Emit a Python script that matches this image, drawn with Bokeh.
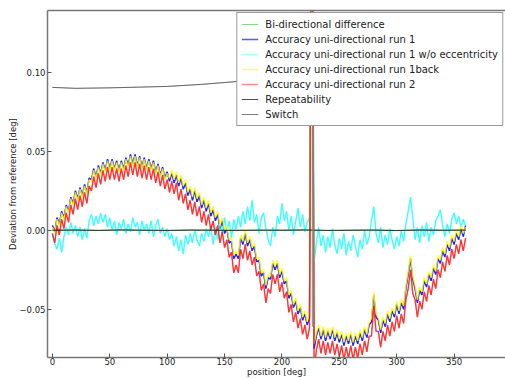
from bokeh.plotting import figure
from bokeh.models import Range1d, FixedTicker, LinearAxis, Legend, LegendItem
from bokeh.embed import file_html
from bokeh.resources import INLINE

# ---------------- data (values in milli-degrees) ----------------
positions = list(range(0, 361, 2))

run1_mdeg = [
    3, -1, 8, 4, 12, 8, 16, 12, 21, 17,
    25, 20, 27, 22, 29, 24, 33, 32, 39, 34,
    41, 36, 43, 38, 45, 39, 45, 39, 44, 38,
    44, 39, 46, 41, 48, 42, 48, 41, 47, 40,
    46, 39, 45, 39, 44, 37, 42, 35, 40, 33,
    37, 31, 36, 30, 35, 28, 33, 26, 30, 22,
    26, 19, 25, 18, 22, 14, 19, 12, 17, 9,
    13, 6, 10, 1, 6, -2, 1, -8, -7, -18,
    -15, -18, -5, -9, -2, -10, -6, -13, -10, -20,
    -19, -29, -27, -37, -30, -31, -21, -25, -21, -30,
    -26, -34, -32, -43, -40, -49, -45, -53, -49, -57,
    -53, -60, -55, 300, -75, -67, -62, -69, -63, -70,
    -64, -69, -63, -70, -65, -71, -66, -73, -67, -72,
    -66, -73, -67, -72, -65, -70, -63, -68, -60, -58,
    -41, -55, -57, -65, -57, -61, -53, -58, -51, -55,
    -47, -53, -46, -50, -37, -28, -18, -31, -37, -46,
    -38, -41, -32, -36, -28, -32, -24, -28, -18, -21,
    -13, -17, -9, -13, -5, -9, -2, -6, 1, -4,
    3,
]

run1_wo_ecc_mdeg = [
    -3, -8, -12, -5, -14, -4, 2, -3, 5, -2,
    3, -4, 2, -6, 1, -5, 6, 10, 3, 9,
    4, 11, 5, 10, 2, 8, 0, 6, -3, 5,
    1, 7, -2, 4, -1, 8, 2, 5, -3, 6,
    0, 4, -2, 6, -4, 3, 7, -2, 2, -4,
    1, -6, -2, -10, -4, -13, -6, -15, -3, -9,
    -2, -8, 0, -6, -10, -2, -7, 1, -4, 3,
    -9, 2, -6, 5, -3, 8, -1, 6, -5, 7,
    0, 9, 2, 12, 4, 15, 6, 19, 5, 10,
    -2, 8, 11, 1, -6, -10, 2, -4, 9, 4,
    17, 6, 12, 0, 9, -3, 6, 14, 2, 10,
    -1, 5, 8, 300, -20, -8, 2, -10, -3, -14,
    -4, -11, 1, -9, -15, -5, -12, -2, -16, -7,
    -13, -3, -10, -17, -6, -12, 0, -9, -4, 6,
    15, -2, -8, 2, -11, -3, -9, 1, -6, -12,
    -4, -10, 0, -7, 4, 12, 21, 8, -6, 2,
    -8, 3, -4, 5, -7, 2, -3, 6, 9, 13,
    3, -4, 4, -2, 7, 11, 4, 9, 2, 7,
    3,
]

run1back_mdeg = [
    2, -2, 7, 3, 11, 7, 15, 11, 20, 16,
    24, 19, 26, 21, 28, 23, 32, 31, 38, 33,
    40, 35, 42, 37, 44, 38, 44, 38, 43, 37,
    43, 38, 45, 40, 47, 41, 47, 40, 46, 39,
    45, 38, 44, 38, 43, 36, 41, 34, 39, 32,
    36, 33, 38, 32, 37, 30, 35, 28, 32, 24,
    28, 21, 27, 20, 24, 16, 21, 14, 19, 11,
    15, 8, 12, 3, 8, 0, 3, -6, -5, -16,
    -13, -16, -3, -7, 0, -8, -4, -11, -8, -18,
    -17, -27, -25, -35, -28, -29, -19, -23, -19, -28,
    -24, -32, -30, -41, -38, -47, -43, -51, -47, -55,
    -51, -58, -53, 300, -72, -65, -60, -67, -61, -68,
    -62, -67, -61, -68, -63, -69, -64, -71, -65, -70,
    -64, -71, -65, -70, -63, -68, -61, -66, -58, -56,
    -39, -53, -55, -63, -55, -59, -51, -56, -49, -53,
    -45, -51, -44, -48, -35, -26, -16, -29, -35, -44,
    -36, -39, -30, -34, -26, -30, -22, -26, -16, -19,
    -11, -15, -7, -11, -3, -7, 0, -4, 3, -2,
    2,
]

run2_mdeg = [
    -2, -8, 3, -3, 7, 1, 11, 5, 16, 10,
    20, 13, 22, 15, 24, 17, 28, 25, 34, 27,
    36, 29, 38, 31, 40, 32, 40, 32, 39, 31,
    39, 32, 41, 34, 43, 35, 43, 34, 42, 33,
    41, 32, 40, 32, 39, 30, 37, 28, 35, 26,
    32, 24, 31, 23, 30, 19, 26, 17, 23, 13,
    19, 10, 18, 9, 15, 5, 12, 3, 10, 0,
    6, -3, 3, -8, -1, -11, -6, -17, -14, -27,
    -22, -27, -12, -18, -9, -19, -13, -22, -17, -29,
    -26, -38, -34, -46, -37, -40, -28, -34, -28, -39,
    -33, -43, -39, -52, -47, -58, -52, -62, -56, -66,
    -60, -69, -62, 300, -88, -76, -69, -78, -70, -79,
    -71, -78, -70, -79, -72, -80, -73, -82, -74, -81,
    -73, -82, -74, -81, -72, -79, -70, -77, -67, -67,
    -48, -64, -64, -74, -64, -70, -60, -67, -58, -64,
    -54, -62, -53, -59, -44, -37, -25, -40, -44, -55,
    -45, -50, -39, -45, -35, -41, -31, -37, -25, -30,
    -20, -26, -16, -22, -12, -18, -9, -15, -6, -13,
    -5,
]

coarse_positions = list(range(0, 361, 20))
bidir_mdeg = [0.0, 0.2, -0.1, 0.1, 0.0, -0.2, 0.1, 0.0, 0.2, -0.1,
              0.0, 0.1, -0.2, 0.0, 0.1, -0.1, 0.2, 0.0, 0.1]
repeat_mdeg = [0.0, 0.1, -0.1, 0.2, 0.0, -0.1, 0.1, 0.0, -0.2, 0.1,
               0.0, 0.2, -0.1, 0.0, 0.1, -0.2, 0.1, 0.0, 0.1]

switch_pos = [0, 20, 50, 100, 130, 162, 200, 227, 227]
switch_mdeg = [90.5, 89.9, 90.2, 91.1, 92.4, 94.3, 95.5, 96.2, -61.0]

x_ticks = [0, 50, 100, 150, 200, 250, 300, 350]
y_ticks = [-0.05, 0.0, 0.05, 0.10]
y_tick_labels = ["\u22120.05", "0.00", "0.05", "0.10"]

labels = [
    "Bi-directional difference",
    "Accuracy uni-directional run 1",
    "Accuracy uni-directional run 1 w/o eccentricity",
    "Accuracy uni-directional run 1back",
    "Accuracy uni-directional run 2",
    "Repeatability",
    "Switch",
]
colors = ["#00a000", "#0000ff", "#00ffff", "#ffff00", "#ff0000", "#222222", "#444444"]
legend_alphas = [0.45, 0.65, 0.35, 0.55, 0.45, 0.8, 0.7]

FONT = "DejaVu Sans"

def deg(vals):
    return [v / 1000.0 for v in vals]

p = figure(
    frame_width=458, frame_height=347,
    min_border_left=47, min_border_right=0, min_border_top=10, min_border_bottom=21,
    x_range=Range1d(-4.3, 394.8), y_range=Range1d(-0.0806, 0.1392),
    output_backend="svg", toolbar_location=None,
    background_fill_color="white", border_fill_color="white",
)
p.outline_line_color = None
p.grid.visible = False

for ax in (p.xaxis[0], p.yaxis[0]):
    ax.axis_line_color = "#777777"
    ax.axis_line_width = 1.5
    ax.major_tick_in = 4
    ax.major_tick_out = 0
    ax.major_tick_line_color = "#555555"
    ax.minor_tick_line_color = None
    ax.major_label_text_font = FONT
    ax.major_label_text_font_size = "8.5px"
    ax.major_label_text_color = "#222222"
    ax.axis_label_text_font = FONT
    ax.axis_label_text_font_size = "8.5px"
    ax.axis_label_text_font_style = "normal"
    ax.axis_label_text_color = "#222222"

p.xaxis[0].major_label_standoff = 0
p.xaxis[0].axis_label_standoff = -1
p.yaxis[0].major_label_standoff = 2
p.yaxis[0].axis_label_standoff = -2

p.xaxis[0].ticker = FixedTicker(ticks=x_ticks)
p.xaxis[0].axis_label = "position [deg]"
p.yaxis[0].ticker = FixedTicker(ticks=y_ticks)
p.yaxis[0].major_label_overrides = {t: s for t, s in zip(y_ticks, y_tick_labels)}
p.yaxis[0].axis_label = "Deviation from reference [deg]"

top_axis = LinearAxis(
    ticker=FixedTicker(ticks=[]),
    axis_line_color="#777777", axis_line_width=1.5,
    major_tick_in=0, major_tick_out=0, minor_tick_line_color=None,
    major_label_standoff=0,
)
p.add_layout(top_axis, "above")

series = [
    (coarse_positions, bidir_mdeg, 1.0, 0.3),
    (positions, run1_mdeg, 1.3, 0.65),
    (positions, run1_wo_ecc_mdeg, 1.3, 0.65),
    (positions, run1back_mdeg, 1.3, 0.6),
    (positions, run2_mdeg, 1.3, 0.65),
    (coarse_positions, repeat_mdeg, 1.0, 0.3),
    (switch_pos, switch_mdeg, 1.0, 0.35),
]

items = []
for (xs, ys, lw, a), lab, col, la in zip(series, labels, colors, legend_alphas):
    # pale pass (used for the legend swatch), then the stronger pass on top
    proxy = p.line(xs, deg(ys), line_color=col, line_width=lw, line_alpha=la)
    p.line(xs, deg(ys), line_color=col, line_width=lw, line_alpha=a)
    items.append(LegendItem(label=lab, renderers=[proxy]))

p.line(switch_pos[-2:], deg(switch_mdeg[-2:]), line_color="#999999", line_width=2.5, line_alpha=0.6)

legend = Legend(
    items=items, location="top_right", margin=2,
    padding=4, spacing=1, label_height=14, glyph_height=14, glyph_width=17,
    label_standoff=7,
    label_text_font=FONT, label_text_font_size="10px", label_text_color="#222222",
    border_line_color="#333333", border_line_width=1,
    background_fill_color="white", background_fill_alpha=1.0,
)
p.add_layout(legend, "center")

open("out.html", "w").write(file_html(p, INLINE))
